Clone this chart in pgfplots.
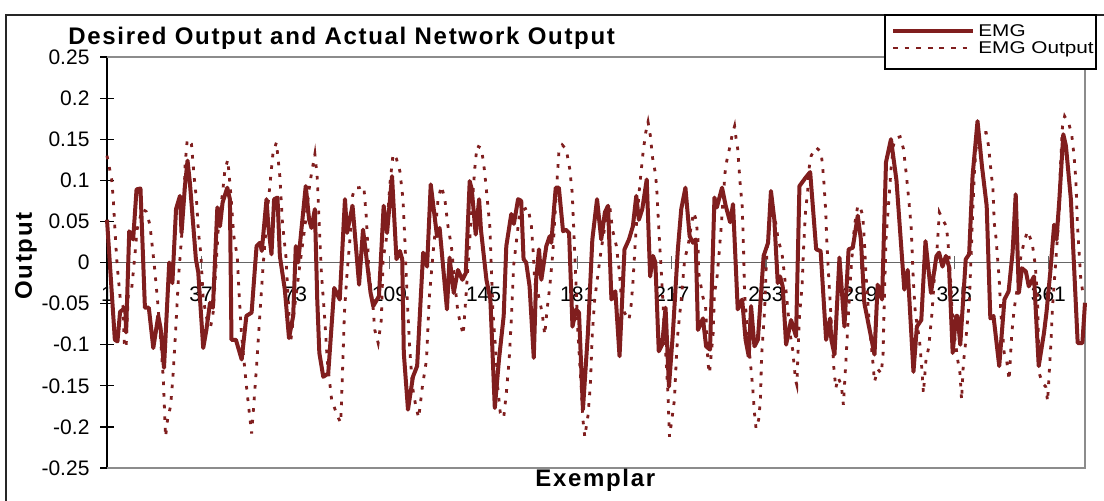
\documentclass[border=0pt]{standalone}
\usepackage{fontspec}
\setmainfont{Liberation Sans}
\newfontface\lblfont[LetterSpace=7]{Liberation Sans Bold}
\usepackage{graphicx}
\usepackage{pgfplots}
\pgfplotsset{compat=1.18}
\definecolor{emg}{RGB}{128,30,30}
\begin{document}
\begin{tikzpicture}[x=1pt,y=1pt]
\useasboundingbox (0,0) rectangle (552,250);
\fill[white] (0,0) rectangle (552,250);
\draw[line width=0.6pt, black!85] (3,-5) -- (3,242.5) -- (560,242.5);
\begin{axis}[at={(53.5pt,16pt)}, anchor=south west, scale only axis,
  width=489pt, height=205.5pt,
  xmin=1, xmax=375, ymin=-0.25, ymax=0.25, clip=false,
  axis x line=middle, axis y line=left,
  x axis line style={-, draw=black!60, line width=0.6pt},
  y axis line style={-, draw=black, line width=0.6pt},
  hide obscured x ticks=false, hide obscured y ticks=false,
  xtick={1,37,73,109,145,181,217,253,289,325,361},
  xticklabels={1,37,73,109,145,181,217,253,289,325,361},
  ytick={-0.25,-0.2,-0.15,-0.1,-0.05,0,0.05,0.1,0.15,0.2,0.25},
  yticklabels={-0.25,-0.2,-0.15,-0.1,-0.05,0,0.05,0.1,0.15,0.2,0.25},
  tick align=center, major tick length=6.5pt,
  x tick style={black!60, line width=0.6pt},
  y tick style={black, line width=0.6pt},
  tick label style={font=\fontsize{10.5}{12}\selectfont},
  xticklabel style={anchor=base, yshift=-16pt},
  yticklabel style={anchor=east, xshift=-2pt},
]
\draw[black!45, line width=0.6pt] (rel axis cs:0,1) -- (rel axis cs:1,1) -- (rel axis cs:1,0) -- (rel axis cs:0,0);
\addplot[emg, line width=2pt, line join=round] coordinates {
(1,0.052) (4,-0.094) (5,-0.096) (6,-0.060) (8,-0.055) (8.3,-0.085) (9.5,0.038) (11,0.028)
(12.3,0.089) (13.8,0.090) (15.5,-0.055) (17,-0.055) (18.7,-0.104) (20.6,-0.065) (21.5,-0.080)
(22.8,-0.128) (24.8,0.0) (26,-0.025) (27.4,0.065) (28.9,0.081) (29.5,0.036) (30.8,0.093)
(31.8,0.124) (32.7,0.097) (35,0.004) (35.9,-0.012) (37.8,-0.104) (39,-0.082) (40.4,-0.049)
(41.5,-0.055) (43.2,0.067) (44.2,0.044) (45.2,0.073) (47,0.091) (48,0.077) (48.6,-0.094)
(50.3,-0.094) (52.5,-0.118) (54.3,-0.065) (56.3,-0.061) (58.2,0.020) (59.5,0.024) (60.2,0.014)
(62,0.077) (62.7,0.044) (63.9,0.010) (64.9,0.077) (66.2,0.079) (67.1,0.008) (69,-0.033)
(70.6,-0.092) (72.2,-0.065) (73.2,0.020) (74.1,0.0) (77,0.093) (78.3,0.052) (79.2,0.042)
(80.5,0.065) (81.4,-0.045) (82.2,-0.110) (83.7,-0.139) (85.6,-0.135) (87.9,-0.031) (90,-0.045)
(92,0.077) (92.8,0.036) (94.9,0.069) (97.4,-0.027) (98.9,0.040) (100,0.012) (101.8,-0.037)
(102.8,-0.053) (105,-0.041) (106.8,0.069) (108.1,0.036) (110,0.105) (111.7,0.004) (113,0.014)
(113.9,0.004) (114.5,-0.110) (116.1,-0.179) (118,-0.139) (119.6,-0.126) (121.9,0.012)
(123.4,-0.005) (124.8,0.095) (127.2,0.032) (128.2,0.042) (131,-0.057) (132,0.006) (133.6,-0.037)
(135.2,-0.009) (136.9,-0.021) (138.2,-0.013) (139.7,0.099) (140.5,0.089) (142,0.034) (143.3,0.077)
(144,0.040) (146.1,-0.021) (147.6,-0.045) (149.3,-0.177) (150.9,-0.118) (152.7,-0.065)
(153.7,0.020) (155.6,0.059) (156.6,0.047) (158.2,0.077) (159.4,0.075) (160.3,0.004) (161.3,0.0)
(162.6,-0.029) (164.2,-0.116) (165.1,-0.021) (166.2,0.016) (167.1,-0.021) (169,0.020)
(170.3,0.032) (170.9,0.024) (172.6,0.091) (173.8,0.091) (175.4,0.038) (176.4,0.040) (177.7,0.036)
(179,-0.078) (180.4,-0.057) (181.5,-0.061) (183,-0.179) (184.9,-0.086) (186.6,0.028) (188.4,0.077)
(190,0.028) (191.4,0.061) (192.6,0.069) (193.9,-0.045) (195.4,-0.035) (197,-0.114) (198.9,0.016)
(200.6,0.028) (202.1,0.044) (203.4,0.081) (204.4,0.052) (205.7,0.065) (207.4,0.101) (208.7,-0.017)
(209.8,0.008) (210.7,0.0) (212,-0.108) (213.3,-0.100) (214.6,-0.055) (215.9,-0.151) (217.4,-0.086)
(219.3,0.016) (220.6,0.065) (222.2,0.091) (223.8,0.032) (225.1,0.024) (226.1,0.028) (227,-0.082)
(228.9,-0.068) (230.1,-0.102) (231.6,-0.106) (233.3,0.079) (234.2,0.067) (236.2,0.091)
(237.6,0.069) (239.3,0.049) (240.4,0.071) (242.2,-0.057) (243.9,-0.045) (245.2,-0.094)
(246.4,-0.114) (247.3,-0.053) (248.6,-0.102) (249.9,-0.094) (252.1,0.008) (253.8,0.024)
(254.9,0.087) (256.2,0.052) (257.5,-0.025) (258.4,-0.017) (259.4,-0.029) (260.7,-0.100)
(262.6,-0.070) (264.5,-0.090) (265.8,0.093) (268.1,0.103) (269.9,0.110) (272.2,0.016)
(273.9,0.014) (276,-0.094) (277.5,-0.068) (278,-0.094) (279.2,-0.112) (281.1,0.006) (283,-0.078)
(284.6,0.016) (286.2,0.018) (288.1,0.057) (289.3,0.028) (290.6,-0.049) (291.9,-0.070)
(294.5,-0.112) (295.7,-0.027) (297.4,-0.045) (298.9,0.122) (300.8,0.150) (302.9,0.100)
(305.9,-0.033) (307.2,-0.009) (309.4,-0.133) (310.7,-0.078) (312.4,-0.070) (314,0.026)
(316.1,-0.037) (318.2,0.008) (319.2,0.012) (320.5,-0.005) (321.8,0.008) (323,-0.005)
(324.4,-0.110) (325.7,-0.065) (326.3,-0.065) (327.3,-0.100) (329.4,0.004) (330.7,0.010)
(332,0.105) (333.9,0.172) (335.6,0.117) (337.4,0.069) (338.8,-0.068) (340,-0.065) (342.2,-0.126)
(344.2,-0.045) (345.8,-0.035) (347.3,0.012) (348.5,0.083) (349.7,-0.037) (350.9,-0.007)
(352.4,-0.011) (353.5,-0.029) (355.5,-0.017) (357.3,-0.126) (359.3,-0.086) (360.3,-0.060)
(361.8,-0.009) (363.2,0.046) (364.1,0.028) (365.2,0.077) (366.7,0.156) (367.7,0.142)
(369.6,0.077) (372.2,-0.098) (374,-0.098) (375,-0.049)
};
\addplot[emg, line width=1.4pt, dash pattern=on 1.8pt off 4pt] coordinates {
(1,0.130) (2.8,0.101) (3.4,0.077) (4.4,0.020) (4.9,-0.004) (6.1,-0.045) (7.1,-0.053) (7.6,-0.098)
(8.3,-0.104) (9.1,-0.041) (10.4,-0.033) (11.7,0.010) (12.5,0.040) (14.5,0.065) (16,0.062)
(17.4,0.046) (18.3,0.020) (19.3,-0.010) (20.3,-0.045) (21.5,-0.094) (22.5,-0.140) (23.4,-0.212)
(24.2,-0.190) (25.3,-0.175) (26.2,-0.140) (27.2,-0.086) (28.3,-0.020) (29.5,0.030) (30.4,0.077)
(30.9,0.120) (31.7,0.150) (33.3,0.144) (34.3,0.105) (35.2,0.077) (36,0.036) (36.9,0.010)
(37.8,-0.045) (39.3,-0.070) (40.6,-0.078) (41.5,-0.065) (42.6,-0.010) (43.6,0.044) (45.2,0.085)
(46.1,0.113) (47.2,0.125) (48.3,0.085) (49.5,0.032) (50.8,0.008) (51.5,-0.037) (52.4,-0.086)
(53.7,-0.130) (54.6,-0.159) (56.3,-0.208) (56.9,-0.183) (58.2,-0.126) (59.5,-0.061) (60.7,-0.004)
(62.3,0.061) (63.5,0.101) (64.5,0.134) (65.8,0.146) (67.1,0.105) (68.1,0.048) (69.4,0.008)
(70.3,-0.045) (71.2,-0.098) (72.8,-0.053) (74.7,-0.004) (76.7,0.044) (78.6,0.097) (80.5,0.132)
(81.4,0.103) (82.2,0.044) (83,-0.013) (84.3,-0.070) (85.2,-0.118) (86.9,-0.167) (88.7,-0.183)
(89.6,-0.190) (90.4,-0.195) (91.2,-0.120) (91.8,-0.061) (92.8,-0.013) (93.9,0.028) (94.9,0.081)
(95.8,0.091) (97.4,0.091) (99.2,0.093) (100.2,0.054) (101.2,-0.013) (102.7,-0.053) (103.4,-0.082)
(104.7,-0.098) (105.9,-0.070) (106.6,0.004) (107.8,0.028) (109.1,0.093) (110.4,0.132)
(111.7,0.126) (113,0.111) (114.2,0.077) (114.9,0.028) (115.8,-0.045) (116.8,-0.106)
(117.8,-0.151) (119.1,-0.175) (120.2,-0.189) (121.6,-0.151) (123.2,-0.118) (124.2,-0.045)
(125.7,0.012) (126.7,0.044) (127.6,0.077) (128.9,0.093) (130.2,0.077) (131.4,0.044) (132.7,0.020)
(134,-0.025) (135.2,-0.061) (137.2,-0.088) (138.3,-0.040) (139.9,0.036) (141.6,0.113)
(142.5,0.142) (144.2,0.139) (145.4,0.111) (146.3,0.081) (147.4,0.044) (148,-0.009) (148.6,-0.061)
(149.9,-0.118) (150.4,-0.151) (151.4,-0.183) (152.7,-0.189) (153.7,-0.159) (154.8,-0.118)
(155.6,-0.070) (156.5,-0.004) (157.5,0.024) (158.8,0.061) (160.7,0.065) (162,0.067) (163.3,0.044)
(164,0.012) (164.6,-0.025) (165.8,-0.037) (167.4,-0.061) (168.4,-0.088) (169.3,-0.057)
(170.3,-0.030) (171.5,0.012) (172.8,0.085) (173.8,0.134) (175.1,0.143) (176.6,0.138)
(177.9,0.115) (178.9,0.085) (179.5,0.040) (180.4,-0.030) (181.1,-0.086) (182.4,-0.155)
(183,-0.191) (183.7,-0.212) (184.9,-0.187) (185.8,-0.151) (186.6,-0.086) (187.5,-0.045)
(188.8,-0.013) (190,0.016) (191.4,0.044) (192.2,0.070) (193.2,0.070) (194.3,0.040) (195.8,0.020)
(197,-0.013) (197.7,-0.045) (198.9,-0.061) (200.6,-0.070) (201.4,-0.053) (202.1,-0.025)
(202.8,0.012) (203.4,0.044) (204.7,0.093) (206,0.134) (207,0.158) (207.9,0.171) (208.8,0.154)
(209.6,0.128) (210.8,0.107) (211.3,0.085) (212.1,0.036) (213,-0.013) (213.8,-0.061)
(214.8,-0.118) (215.5,-0.159) (216.1,-0.212) (216.8,-0.196) (218,-0.167) (218.7,-0.118)
(219.3,-0.086) (220.6,-0.045) (221.9,0.004) (223.2,0.020) (224.4,0.044) (225.3,0.061)
(226.3,0.052) (227,0.028) (227.3,-0.013) (228.8,-0.041) (229.9,-0.053) (230.8,-0.122)
(231.4,-0.135) (232.8,-0.086) (233.3,-0.037) (234.2,-0.021) (235,0.008) (235.9,0.044)
(236.5,0.073) (237.5,0.115) (238.4,0.130) (239.3,0.142) (240.1,0.156) (241,0.166) (241.6,0.150)
(242.2,0.138) (243.1,0.097) (243.9,0.069) (244.4,0.020) (244.8,-0.037) (246,-0.086) (246.7,-0.110)
(247.9,-0.151) (248.6,-0.183) (249.2,-0.202) (250.2,-0.191) (250.9,-0.167) (251.3,-0.115)
(252.5,-0.057) (253.1,-0.004) (253.7,0.028) (255,0.069) (255.8,0.061) (257,0.044) (257.6,0.028)
(259.1,0.012) (260,-0.013) (261,-0.045) (262.2,-0.086) (263.2,-0.106) (264.3,-0.143)
(264.8,-0.149) (265.2,-0.114) (265.8,-0.065) (266.8,-0.029) (267.3,0.012) (268.1,0.061)
(269,0.089) (269.6,0.117) (270.3,0.130) (272.2,0.140) (274.1,0.134) (275,0.105) (275.8,0.065)
(276.3,0.024) (276.9,-0.013) (277.5,-0.045) (278.9,-0.126) (279.7,-0.153) (280.6,-0.140)
(281.8,-0.149) (282.6,-0.173) (283.6,-0.118) (284.7,-0.053) (285.5,-0.010) (286.8,0.044)
(288.1,0.069) (288.9,0.069) (290,0.057) (290.6,0.028) (291.2,-0.013) (291.9,-0.045)
(292.6,-0.078) (293.9,-0.122) (294.5,-0.145) (295.8,-0.130) (297.1,-0.135) (297.8,-0.110)
(298.1,-0.065) (298.9,0.028) (300.2,0.085) (300.8,0.113) (301.7,0.142) (302.5,0.151)
(304.3,0.153) (305.6,0.138) (306.6,0.109) (307.6,0.077) (308.5,0.044) (309.4,-0.025)
(310.1,-0.061) (311.7,-0.094) (312.7,-0.133) (313.2,-0.159) (314.2,-0.118) (315.2,-0.104)
(316.5,-0.061) (317.5,-0.013) (318.5,0.020) (319.3,0.061) (320.6,0.052) (322,0.044) (322.5,0.028)
(323.3,-0.004) (324.1,-0.053) (325,-0.086) (326.3,-0.118) (327.2,-0.135) (327.8,-0.167)
(328.5,-0.122) (329.2,-0.102) (330.8,-0.045) (331.4,0.004) (332,0.057) (332.7,0.109)
(333.3,0.138) (334.6,0.158) (337.2,0.158) (338.1,0.142) (339,0.113) (339.8,0.089) (340.3,0.048)
(340.9,0.032) (341.6,0.004) (342.2,-0.021) (342.8,-0.061) (343.5,-0.086) (344.1,-0.110)
(345,-0.118) (346,-0.143) (347,-0.086) (347.9,-0.057) (349.2,-0.029) (350.5,0.008) (351.8,0.026)
(353,0.038) (354.8,0.024) (356,-0.004) (356.9,-0.045) (357.5,-0.135) (358.8,-0.147)
(360,-0.151) (360.7,-0.169) (361.3,-0.135) (361.9,-0.102) (362.6,-0.053) (363.7,-0.004)
(364.5,0.032) (365.2,0.065) (365.4,0.101) (365.8,0.130) (366.4,0.166) (367.2,0.178) (368.9,0.168)
(369.9,0.156) (370.8,0.130) (371.5,0.101) (372.1,0.046) (372.6,0.020) (373.4,-0.021) (374.1,-0.035)
};
\end{axis}
% title and axis titles
\node[anchor=base west, inner sep=0pt] at (34,227.85) {\lblfont\fontsize{12}{14}\selectfont Desired Output and Actual Network Output};
\node[anchor=base west, inner sep=0pt] at (267.5,6.65) {\lblfont\fontsize{12}{14}\selectfont Exemplar};
\node[anchor=base, rotate=90, inner sep=0pt] at (16,122) {\lblfont\fontsize{12}{14}\selectfont Output};
% legend
\draw[fill=white, line width=0.6pt] (442.5,215.5) rectangle (548,242.5);
\draw[emg, line width=2pt] (446.5,234.5) -- (486.5,234.5);
\draw[emg, line width=1.4pt, dash pattern=on 2.4pt off 3.4pt] (446.5,226) -- (486.5,226);
\node[anchor=base west, inner sep=0pt] at (489,231.8) {\scalebox{1.22}[1]{\fontsize{8.5}{9}\selectfont EMG}};
\node[anchor=base west, inner sep=0pt] at (489,223.3) {\scalebox{1.22}[1]{\fontsize{8.5}{9}\selectfont EMG Output}};
\end{tikzpicture}
\end{document}
